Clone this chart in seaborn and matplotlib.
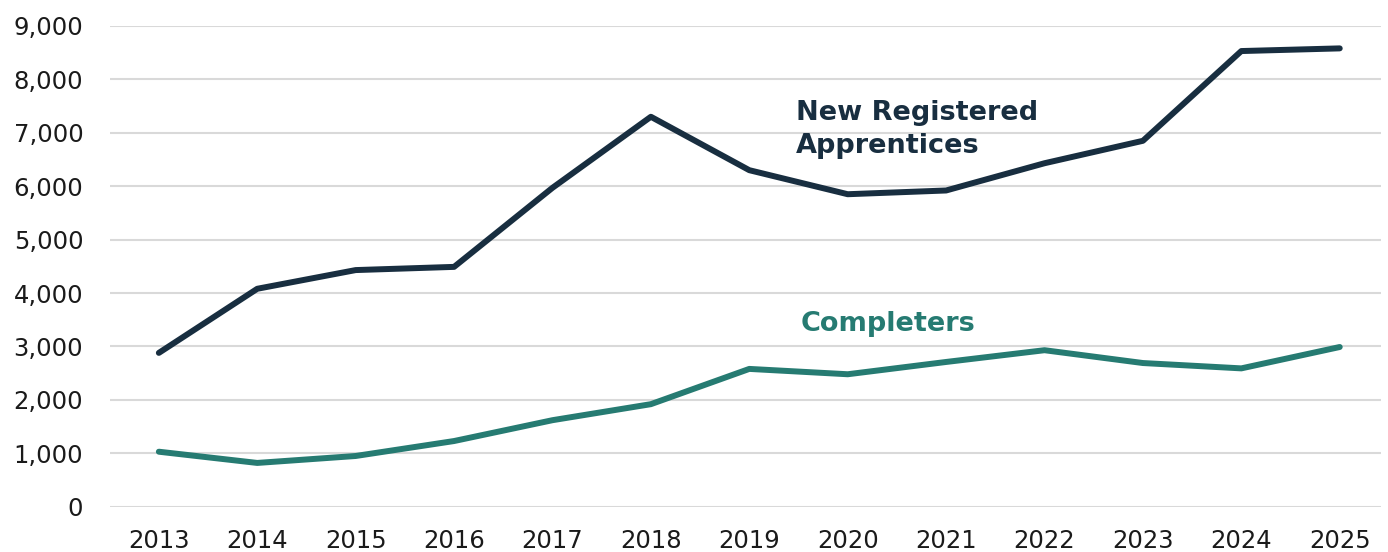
import matplotlib
matplotlib.use("Agg")
import matplotlib.pyplot as plt
import matplotlib.ticker as mticker
import pandas as pd
import seaborn as sns

# Values
years = [2013, 2014, 2015, 2016, 2017, 2018, 2019, 2020, 2021, 2022, 2023, 2024, 2025]
new_registered = [2880, 4080, 4430, 4490, 5970, 7300, 6300, 5850, 5920, 6430, 6850, 8530, 8580]
completers = [1030, 820, 950, 1230, 1620, 1920, 2580, 2480, 2710, 2930, 2690, 2590, 2990]
series_names = ["New Registered\nApprentices", "Completers"]
series_colors = ["#182e40", "#267b72"]

data = pd.DataFrame({
    "year": years * 2,
    "value": new_registered + completers,
    "series": [series_names[0]] * len(years) + [series_names[1]] * len(years),
})

sns.set_theme(style="white")
plt.rcParams["font.family"] = ["DejaVu Sans"]

fig, ax = plt.subplots(figsize=(13.88, 5.52), dpi=100)
fig.subplots_adjust(left=0.079, right=0.995, top=0.953, bottom=0.082)

sns.lineplot(data=data, x="year", y="value", hue="series",
             palette=dict(zip(series_names, series_colors)),
             linewidth=4.3, legend=False, ax=ax,
             solid_capstyle="round", solid_joinstyle="round")

# Direct labels instead of a legend
ax.text(2019.47, 7060, series_names[0], color=series_colors[0], fontsize=19.5,
        fontweight="bold", ha="left", va="center", linespacing=1.35)
ax.text(2019.52, 3420, series_names[1], color=series_colors[1], fontsize=19.5,
        fontweight="bold", ha="left", va="center")

ax.set_ylim(0, 9000)
ax.set_xlim(2012.5, 2025.42)
ax.set_xticks(years)
ax.set_yticks(range(0, 9001, 1000))
ax.yaxis.set_major_formatter(mticker.StrMethodFormatter("{x:,.0f}"))
ax.grid(axis="y", color="#d9d9d9", linewidth=1.5)
ax.set_axisbelow(True)
sns.despine(ax=ax, left=True, bottom=True)
ax.tick_params(axis="both", length=0, labelsize=17.5, colors="#1a1a1a")
ax.tick_params(axis="y", pad=19)
ax.tick_params(axis="x", pad=16)
ax.set_xlabel("")
ax.set_ylabel("")

fig.savefig("out.png", dpi=100)
